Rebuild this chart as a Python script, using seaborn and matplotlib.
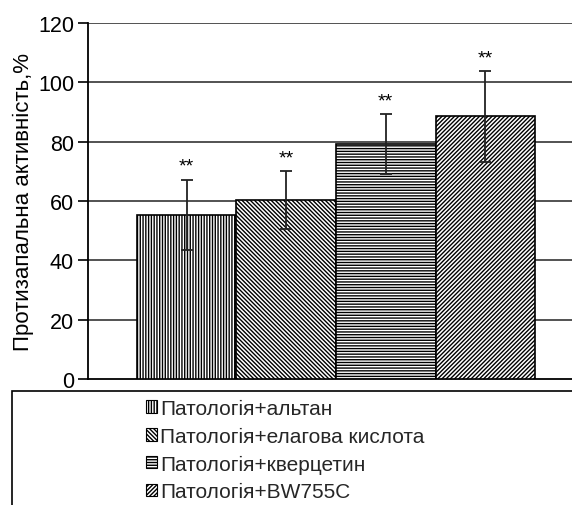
import matplotlib
matplotlib.use("Agg")
import matplotlib.pyplot as plt
import seaborn as sns
import pandas as pd
from matplotlib.patches import Rectangle

categories = ["Патологія+альтан", "Патологія+елагова кислота",
              "Патологія+кверцетин", "Патологія+BW755C"]
values = [55.3, 60.4, 79.2, 88.5]
errors = [11.9, 9.8, 10.1, 15.2]
marks = ["**", "**", "**", "**"]
hatches = ["||||||", "\\\\\\\\\\\\\\\\", "------", "////////"]
yticks = [0, 20, 40, 60, 80, 100, 120]
ylabel = "Протизапальна активність,%"

sns.set_theme(style="white")
plt.rcParams["font.family"] = ["Liberation Sans", "DejaVu Sans"]
plt.rcParams["hatch.linewidth"] = 1.0
plt.rcParams["hatch.color"] = "black"

fig = plt.figure(figsize=(5.72, 5.06), dpi=100)
ax = fig.add_axes([88/572, 1-380/506, 1-88/572, (380-24)/506])

df = pd.DataFrame({"cat": categories, "val": values})
sns.barplot(data=df, x="cat", y="val", hue="cat", order=categories,
            hue_order=categories, palette=["white"]*4, width=1.0,
            edgecolor="black", linewidth=1.2, errorbar=None, legend=False,
            ax=ax, zorder=3)

bars = [p for p in ax.patches]
for p, h in zip(bars, hatches):
    p.set_hatch(h)

xs = [p.get_x() + p.get_width()/2 for p in bars]
ax.errorbar(xs, values, yerr=errors, fmt="none", ecolor="#222222",
            elinewidth=1.3, capsize=4.5, capthick=1.3, zorder=4)
for x, v, e, m in zip(xs, values, errors, marks):
    ax.text(x, v + e + 1.6, m, ha="center", va="bottom", fontsize=14,
            color="black", zorder=5)

ax.set_ylim(0, 120)
ax.set_yticks(yticks)
ax.set_xlim(-0.99, 3.87)
ax.set_xticks([])
ax.set_xlabel("")
ax.set_ylabel(ylabel, fontsize=16, color="black", labelpad=3)
ax.tick_params(axis="y", labelsize=15.5, colors="black", direction="out",
               length=7, width=1.2, left=True, pad=3)
for y in yticks[1:]:
    ax.axhline(y, color="#444444", linewidth=1.3, zorder=1)
for s in ["top", "right"]:
    ax.spines[s].set_visible(False)
ax.spines["left"].set_color("black")
ax.spines["left"].set_linewidth(1.3)
ax.spines["bottom"].set_color("black")
ax.spines["bottom"].set_linewidth(1.3)
ax.set_facecolor("white")

fig.add_artist(Rectangle((12/572, -0.05), 1.0, 1-392/506 + 0.05,
                         transform=fig.transFigure, fill=False,
                         edgecolor="black", linewidth=1.2))

leg = fig.legend(handles=bars, labels=categories, loc="upper left",
                 bbox_to_anchor=(146/572, 1-400/506), frameon=False,
                 fontsize=15, handlelength=0.53, handleheight=0.53,
                 handletextpad=0.15, labelspacing=0.42, borderaxespad=0,
                 borderpad=0)
for h in leg.legend_handles:
    h.set_linewidth(0.8)

fig.savefig("out.png", dpi=100, facecolor="white")
